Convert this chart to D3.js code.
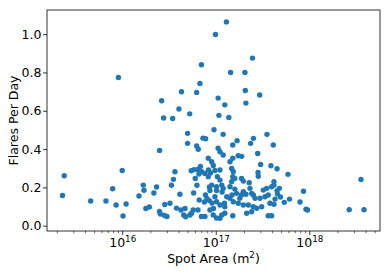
<!DOCTYPE html>
<html>
<head>
<meta charset="utf-8">
<script src="https://cdn.jsdelivr.net/npm/d3@7"></script>
<style>
   body { margin: 0; background: #fff; }
   svg { display: block; font-family: 'DejaVu Sans', sans-serif; }
</style>
</head>
<body>
<div id="chart"></div>
<script>

// SPOT AREA (m2) PER REGION
var spotArea = [
   2.3e15, 2.4e15, 4.6e15, 6.7e15, 7.9e15, 8.6e15, 9.1e15, 1.0e16, 1.02e16, 1.10e16,
   1.51e16, 1.68e16, 1.71e16, 1.79e16, 1.95e16, 2.18e16, 2.33e16, 2.51e16, 2.50e16, 2.56e16,
   2.83e16, 3.01e16, 2.85e16, 3.24e16, 3.36e16, 3.53e16, 3.66e16, 3.80e16, 4.14e16, 4.24e16,
   4.54e16, 4.76e16, 5.00e16, 5.00e16, 5.30e16, 5.52e16, 5.74e16, 5.47e16, 5.80e16, 6.04e16,
   6.25e16, 6.45e16, 6.50e16, 6.40e16, 6.66e16, 6.29e16, 2.64e16, 2.77e16, 3.46e16, 4.30e16,
   4.04e16, 5.27e16, 6.25e16, 6.78e16, 7.03e16, 9.93e16, 1.30e17, 2.47e17, 1.44e17, 2.05e17,
   2.07e17, 2.95e17, 1.06e17, 1.25e17, 2.10e17, 1.08e17, 1.38e17, 9.57e16, 1.20e17, 7.30e16,
   7.80e16, 1.69e17, 2.53e17, 3.53e17, 1.52e17, 2.36e17, 4.12e17, 1.06e17, 1.11e17, 1.20e17,
   1.74e17, 1.89e17, 1.52e17, 1.42e17, 2.81e17, 8.32e16, 9.04e16, 9.40e16, 9.80e16, 8.36e16,
   8.78e16, 3.02e17, 3.89e17, 4.52e17, 1.48e17, 1.54e17, 1.52e17, 1.60e17, 1.04e17, 1.11e17,
   1.89e17, 1.97e17, 2.83e17, 2.85e17, 9.04e16, 1.02e17, 1.16e17, 1.20e17, 1.48e17, 1.42e17,
   2.28e17, 1.60e17, 1.67e17, 1.97e17, 2.10e17, 2.32e17, 2.42e17, 3.22e17, 3.96e17, 9.80e16,
   1.31e17, 1.42e17, 1.81e17, 2.52e17, 2.63e17, 3.36e17, 3.64e17, 1.02e17, 1.25e17, 2.23e17,
   2.52e17, 2.74e17, 3.80e17, 4.19e17, 9.40e16, 1.16e17, 1.25e17, 1.11e17, 1.52e17, 3.64e17,
   3.96e17, 5.85e16, 6.86e16, 7.07e16, 7.66e16, 8.32e16, 6.61e16, 8.56e16, 7.76e16, 8.05e16,
   8.67e16, 8.56e16, 9.11e16, 7.57e16, 7.03e16, 7.66e16, 8.67e16, 9.45e16, 1.11e17, 1.02e17,
   1.17e17, 1.49e17, 1.88e17, 2.97e17, 1.11e17, 1.24e17, 1.54e17, 1.74e17, 1.97e17, 4.69e16,
   1.02e17, 2.14e17, 2.42e17, 5.92e17, 4.19e17, 4.19e17, 4.78e17, 4.52e17, 4.57e17, 4.92e17,
   8.67e17, 6.14e17, 7.96e17, 5.40e17, 4.30e17, 9.22e17, 9.57e17, 2.67e18, 3.57e18, 3.85e18,
   3.50e17, 3.10e17
];

// FLARES PER DAY PER REGION (SAME ORDER AS spotArea)
var flaresPerDay = [
   0.158, 0.261, 0.129, 0.129, 0.193, 0.108, 0.774, 0.288, 0.051, 0.113,
   0.155, 0.212, 0.185, 0.090, 0.098, 0.171, 0.202, 0.393, 0.074, 0.061,
   0.053, 0.048, 0.111, 0.117, 0.211, 0.242, 0.282, 0.092, 0.164, 0.082,
   0.056, 0.047, 0.482, 0.430, 0.056, 0.065, 0.082, 0.287, 0.171, 0.247,
   0.416, 0.082, 0.399, 0.294, 0.134, 0.211, 0.652, 0.562, 0.560, 0.699,
   0.609, 0.584, 0.696, 0.742, 0.840, 0.998, 1.064, 0.875, 0.800, 0.800,
   0.706, 0.682, 0.666, 0.631, 0.640, 0.576, 0.565, 0.501, 0.477, 0.457,
   0.454, 0.444, 0.456, 0.477, 0.421, 0.430, 0.421, 0.404, 0.386, 0.369,
   0.365, 0.362, 0.352, 0.334, 0.377, 0.352, 0.334, 0.314, 0.288, 0.291,
   0.275, 0.320, 0.313, 0.297, 0.299, 0.282, 0.256, 0.247, 0.256, 0.238,
   0.247, 0.233, 0.278, 0.258, 0.212, 0.203, 0.212, 0.195, 0.230, 0.203,
   0.224, 0.191, 0.169, 0.177, 0.164, 0.195, 0.169, 0.186, 0.203, 0.151,
   0.151, 0.143, 0.143, 0.160, 0.143, 0.151, 0.160, 0.125, 0.099, 0.108,
   0.099, 0.091, 0.117, 0.112, 0.056, 0.056, 0.065, 0.039, 0.052, 0.052,
   0.052, 0.293, 0.309, 0.282, 0.273, 0.256, 0.270, 0.202, 0.160, 0.142,
   0.184, 0.131, 0.118, 0.124, 0.048, 0.048, 0.082, 0.090, 0.291, 0.184,
   0.176, 0.160, 0.160, 0.143, 0.108, 0.118, 0.125, 0.117, 0.108, 0.090,
   0.040, 0.065, 0.073, 0.268, 0.230, 0.212, 0.195, 0.183, 0.165, 0.150,
   0.180, 0.139, 0.124, 0.122, 0.139, 0.086, 0.082, 0.083, 0.241, 0.083,
   0.195, 0.099
];

// AXIS TICKS
var xTicks = [1e16, 1e17, 1e18];
var xTickLabels = ['16', '17', '18'];
var yTicks = [0.0, 0.2, 0.4, 0.6, 0.8, 1.0];

// SETTINGS
var settings = {
   width: 390,
   height: 279,
   margin: { top: 10, right: 10, bottom: 48, left: 47 },
   xDomain: [1.57e15, 5.70e18],
   yDomain: [-0.0276, 1.126],
   dot: '#1f77b4',
   radius: 2.7,
   font: 12.5
};

// INNER SIZE
var innerW = settings.width - settings.margin.left - settings.margin.right;
var innerH = settings.height - settings.margin.top - settings.margin.bottom;

// X-SCALING (LOG)
var xScale = d3.scaleLog()
   .domain(settings.xDomain)
   .range([0, innerW])

// Y-SCALING
var yScale = d3.scaleLinear()
   .domain(settings.yDomain)
   .range([innerH, 0])

// GENERATE CANVAS
var svg = d3.select('#chart').append('svg')
   .attr('width', settings.width)
   .attr('height', settings.height)

var canvas = svg.append('g')
   .attr('transform', 'translate(' + settings.margin.left + ',' + settings.margin.top + ')')

// ADD DOTS
canvas.selectAll('circle')
   .data(spotArea)
      .enter().append('circle')
         .attr('cx', (d) => { return xScale(d) })
         .attr('cy', (d, i) => { return yScale(flaresPerDay[i]) })
         .attr('r', settings.radius)
         .attr('fill', settings.dot)

// MINOR X TICKS (2..9 IN EACH DECADE)
var minor = xScale.ticks().filter(v => { return xTicks.indexOf(v) < 0 });

canvas.append('g')
   .attr('transform', 'translate(0,' + innerH + ')')
   .call(d3.axisBottom(xScale).tickValues(minor).tickSize(2.2).tickFormat(''))
   .call(g => g.select('.domain').remove())
   .call(g => g.selectAll('line').attr('stroke', '#000').attr('stroke-width', 0.6))

// MAJOR X TICKS
var xAxis = canvas.append('g')
   .attr('transform', 'translate(0,' + innerH + ')')
   .call(d3.axisBottom(xScale).tickValues(xTicks).tickSize(4).tickFormat(''))
   .call(g => g.select('.domain').remove())
   .call(g => g.selectAll('line').attr('stroke', '#000').attr('stroke-width', 0.8))

// SUPERSCRIPT LABELS
xAxis.selectAll('.tick text')
   .attr('font-size', settings.font)
   .attr('font-family', 'DejaVu Sans')
   .attr('fill', '#000')
   .attr('y', 16)
   .attr('dy', 0)
   .each(function(d, i) {
      var t = d3.select(this);
      t.append('tspan').text('10');
      t.append('tspan').attr('dy', '-0.55em').attr('font-size', settings.font * 0.7).text(xTickLabels[i]);
   })

// Y AXIS
canvas.append('g')
   .call(d3.axisLeft(yScale).tickValues(yTicks).tickSize(4).tickPadding(1.5).tickFormat(d3.format('.1f')))
   .call(g => g.select('.domain').remove())
   .call(g => g.selectAll('line').attr('stroke', '#000').attr('stroke-width', 0.8))
   .call(g => g.selectAll('text').attr('font-size', settings.font).attr('font-family', 'DejaVu Sans').attr('fill', '#000'))

// FRAME
canvas.append('rect')
   .attr('width', innerW)
   .attr('height', innerH)
   .attr('fill', 'none')
   .attr('stroke', '#000')
   .attr('stroke-width', 0.8)

// X LABEL
var xLabel = svg.append('text')
   .attr('x', settings.margin.left + innerW / 2)
   .attr('y', 263)
   .attr('text-anchor', 'middle')
   .attr('font-size', settings.font)

xLabel.append('tspan').text('Spot Area (m')
xLabel.append('tspan').attr('dy', '-0.55em').attr('font-size', settings.font * 0.7).text('2')
xLabel.append('tspan').attr('dy', '0.385em').text(')')

// Y LABEL
svg.append('text')
   .attr('transform', 'translate(17.5,' + (settings.margin.top + innerH / 2) + ') rotate(-90)')
   .attr('text-anchor', 'middle')
   .attr('font-size', settings.font)
   .text('Flares Per Day')

</script>
</body>
</html>
